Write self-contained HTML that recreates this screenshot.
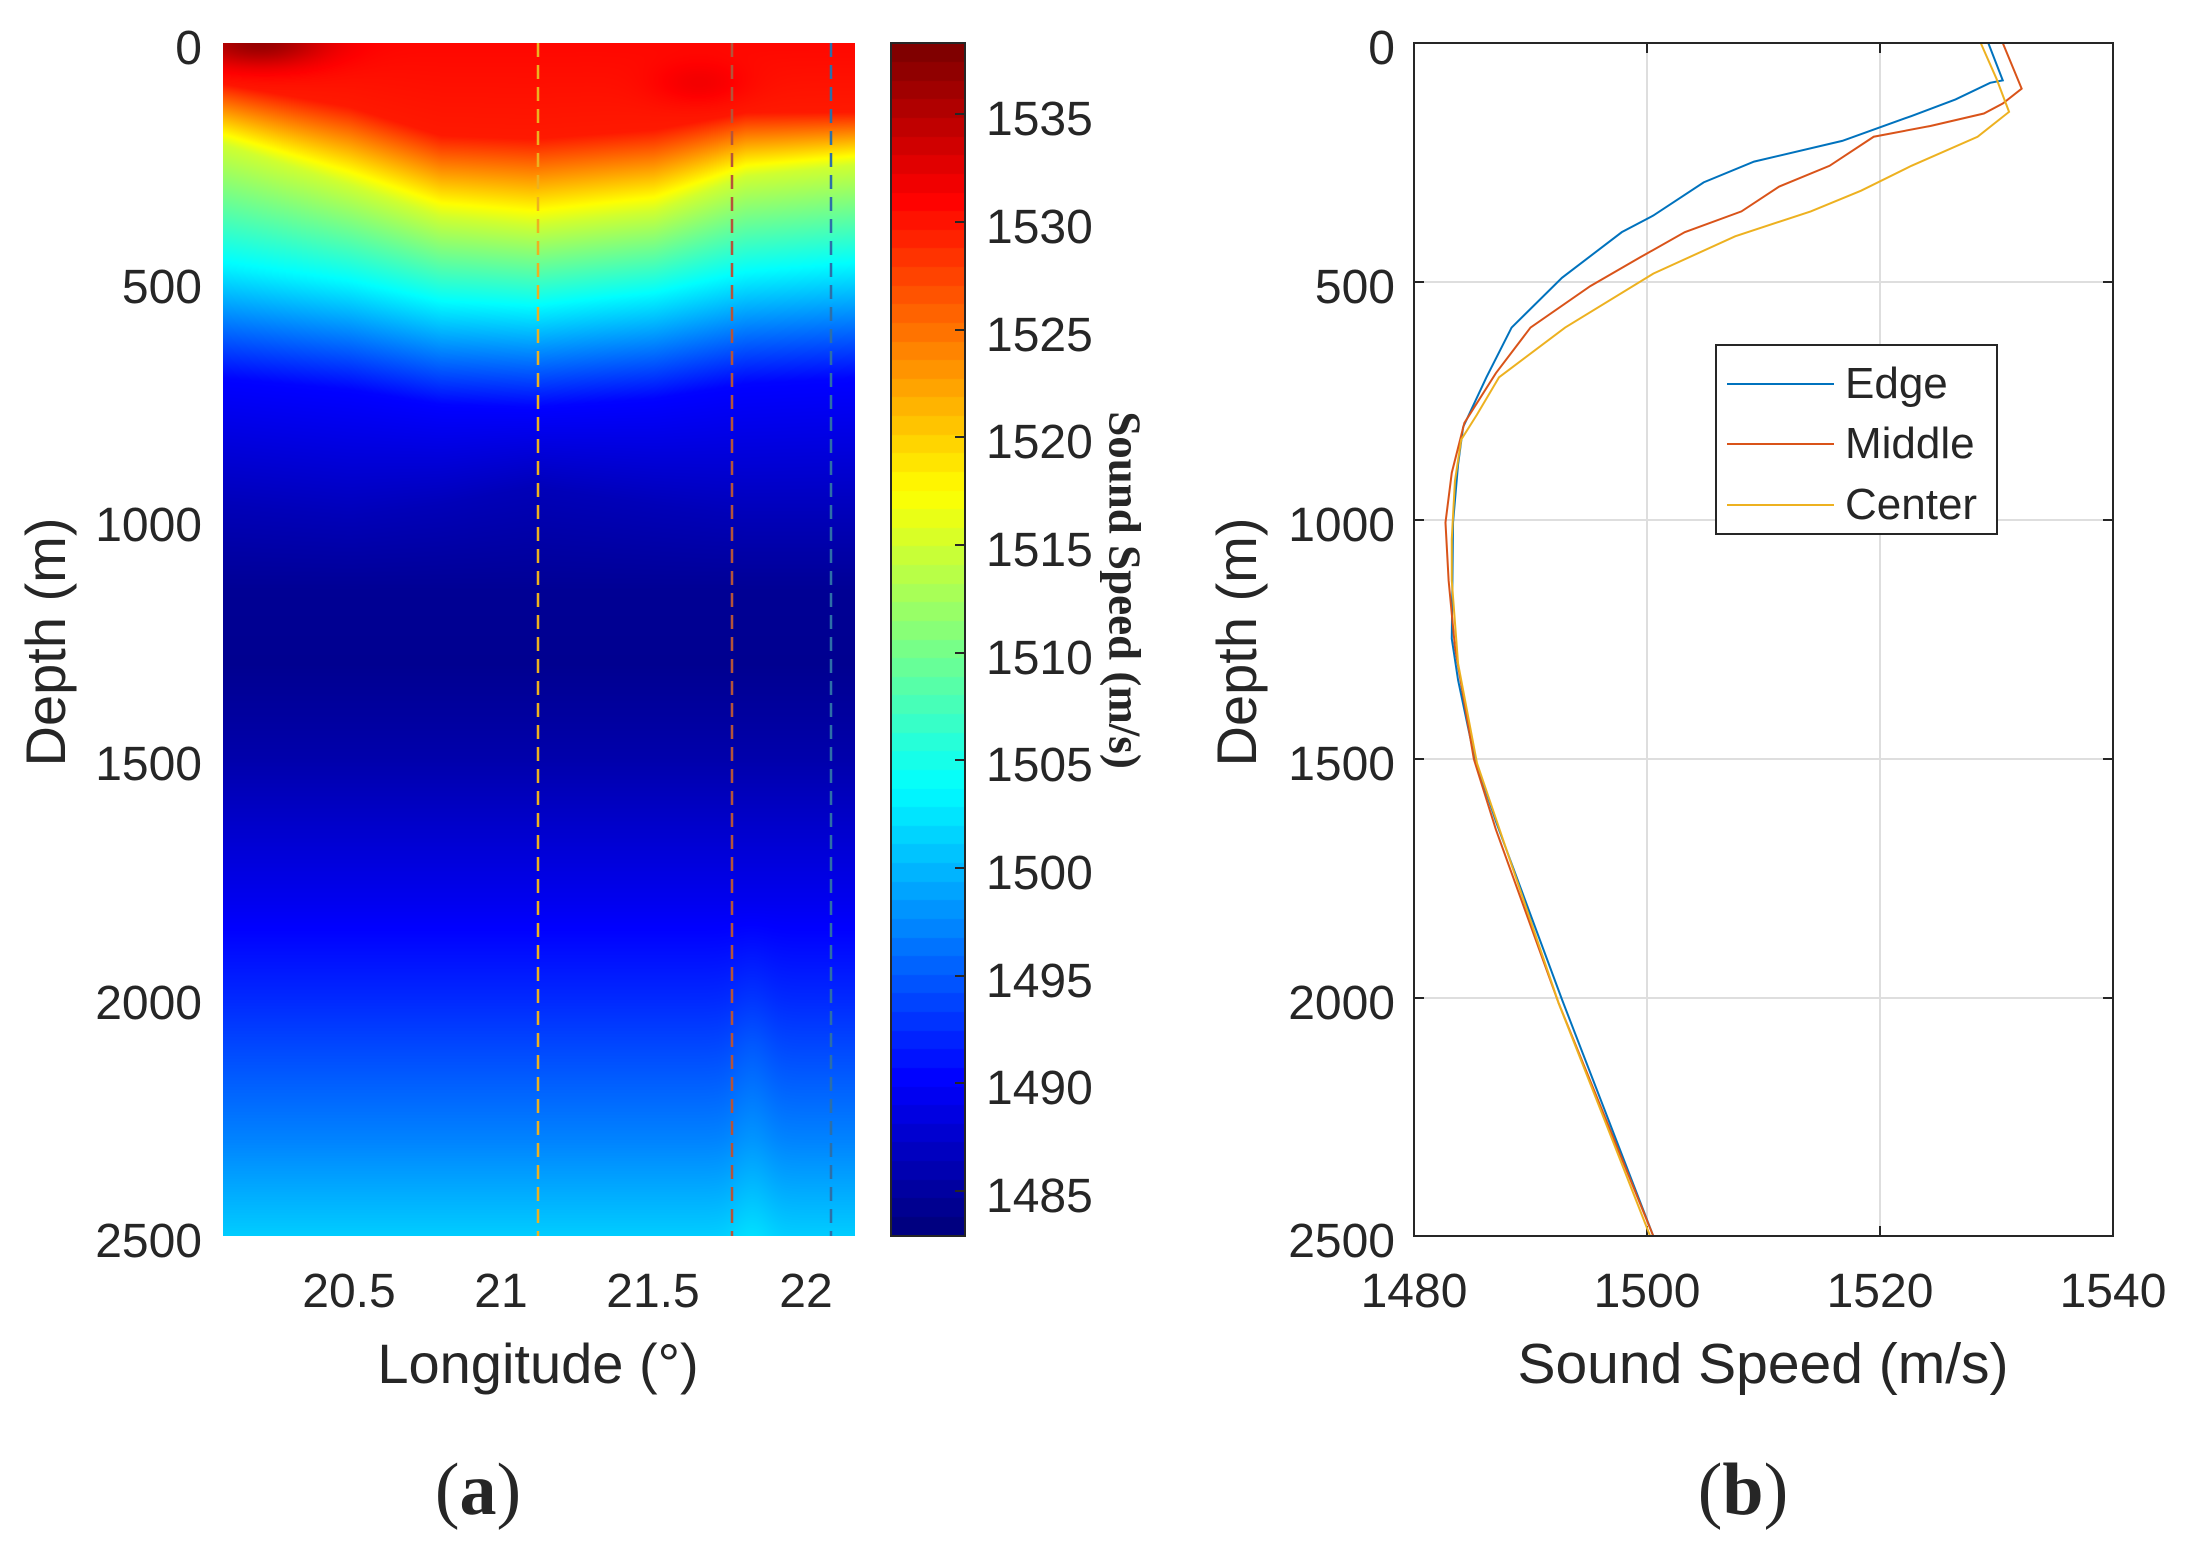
<!DOCTYPE html>
<html><head><meta charset="utf-8"><style>
html,body{margin:0;padding:0;background:#fff;}
body{width:2187px;height:1551px;position:relative;overflow:hidden;font-family:"Liberation Sans",sans-serif;color:#262626;}
canvas{position:absolute;}
.t{position:absolute;font-size:48px;line-height:1;white-space:nowrap;}
</style></head><body>
<canvas id="hm" width="632" height="1193" style="left:223px;top:43px;"></canvas>
<canvas id="cb" width="74" height="1193" style="left:891px;top:43px;"></canvas>
<svg width="2187" height="1551" style="position:absolute;left:0;top:0" xmlns="http://www.w3.org/2000/svg">
 <line x1="538" y1="43" x2="538" y2="1236" stroke="#EDB120" stroke-width="2.5" stroke-dasharray="14,8"/>
 <line x1="732" y1="43" x2="732" y2="1236" stroke="#B5543A" stroke-width="2.5" stroke-dasharray="14,8"/>
 <line x1="831" y1="43" x2="831" y2="1236" stroke="#2D6FA8" stroke-width="2.5" stroke-dasharray="14,8"/>
 <rect x="891" y="43" width="74" height="1193" fill="none" stroke="#262626" stroke-width="2"/>
 <g stroke="#262626" stroke-width="2">
  <line x1="955" y1="114" x2="965" y2="114"/><line x1="955" y1="222" x2="965" y2="222"/>
  <line x1="955" y1="330" x2="965" y2="330"/><line x1="955" y1="437" x2="965" y2="437"/>
  <line x1="955" y1="545" x2="965" y2="545"/><line x1="955" y1="653" x2="965" y2="653"/>
  <line x1="955" y1="760" x2="965" y2="760"/><line x1="955" y1="868" x2="965" y2="868"/>
  <line x1="955" y1="976" x2="965" y2="976"/><line x1="955" y1="1083" x2="965" y2="1083"/>
  <line x1="955" y1="1191" x2="965" y2="1191"/>
 </g>
 <g stroke="#dedede" stroke-width="2">
  <line x1="1647" y1="43" x2="1647" y2="1236"/><line x1="1880" y1="43" x2="1880" y2="1236"/>
  <line x1="1414" y1="282" x2="2113" y2="282"/><line x1="1414" y1="520" x2="2113" y2="520"/>
  <line x1="1414" y1="759" x2="2113" y2="759"/><line x1="1414" y1="998" x2="2113" y2="998"/>
 </g>
 <g stroke="#262626" stroke-width="2">
  <line x1="1647" y1="1236" x2="1647" y2="1226"/><line x1="1880" y1="1236" x2="1880" y2="1226"/>
  <line x1="1647" y1="43" x2="1647" y2="53"/><line x1="1880" y1="43" x2="1880" y2="53"/>
  <line x1="1414" y1="282" x2="1424" y2="282"/><line x1="1414" y1="520" x2="1424" y2="520"/>
  <line x1="1414" y1="759" x2="1424" y2="759"/><line x1="1414" y1="998" x2="1424" y2="998"/>
  <line x1="2113" y1="282" x2="2103" y2="282"/><line x1="2113" y1="520" x2="2103" y2="520"/>
  <line x1="2113" y1="759" x2="2103" y2="759"/><line x1="2113" y1="998" x2="2103" y2="998"/>
 </g>
 <g transform="translate(1199.9,-0.14) scale(0.6297,0.8296)" fill="none" stroke-width="2">
  <polyline vector-effect="non-scaling-stroke" stroke="#0072BD" points="1252,52 1275,97 1255,100 1200,120 1130,140 1020,170 880,195 800,220 720,260 670,280 575,335 495,395 455,455 418,515 410,560 402,630 400,770 410,820 435,910 470,990 575,1205 720,1490"/>
  <polyline vector-effect="non-scaling-stroke" stroke="#D95319" points="1275,52 1305,107 1275,125 1245,137 1160,152 1070,165 1000,200 920,225 860,255 770,280 700,310 620,345 525,395 470,450 420,510 400,570 390,630 395,700 405,780 435,915 470,1000 570,1210 720,1490"/>
  <polyline vector-effect="non-scaling-stroke" stroke="#EDB120" points="1240,52 1265,95 1285,135 1235,165 1130,200 1050,230 970,255 850,285 720,330 580,395 475,455 440,500 415,530 405,580 400,650 400,700 410,800 440,920 570,1210 715,1490"/>
 </g>
 <rect x="1414" y="43" width="699" height="1193" fill="none" stroke="#262626" stroke-width="2"/>
 <rect x="1716" y="345" width="281" height="189" fill="#fff" stroke="#262626" stroke-width="2"/>
 <line x1="1727" y1="384" x2="1834" y2="384" stroke="#0072BD" stroke-width="2"/>
 <line x1="1727" y1="444" x2="1834" y2="444" stroke="#D95319" stroke-width="2"/>
 <line x1="1727" y1="505" x2="1834" y2="505" stroke="#EDB120" stroke-width="2"/>
</svg>
<div class="t" style="left:1845px;top:362px;font-size:44px">Edge</div>
<div class="t" style="left:1845px;top:422px;font-size:44px">Middle</div>
<div class="t" style="left:1845px;top:483px;font-size:44px">Center</div>

<div class="t" style="right:1985px;top:25px">0</div>
<div class="t" style="right:1985px;top:264px">500</div>
<div class="t" style="right:1985px;top:502px">1000</div>
<div class="t" style="right:1985px;top:741px">1500</div>
<div class="t" style="right:1985px;top:980px">2000</div>
<div class="t" style="right:1985px;top:1218px">2500</div>
<div class="t" style="left:349px;top:1268px;transform:translateX(-50%)">20.5</div>
<div class="t" style="left:501px;top:1268px;transform:translateX(-50%)">21</div>
<div class="t" style="left:653px;top:1268px;transform:translateX(-50%)">21.5</div>
<div class="t" style="left:806px;top:1268px;transform:translateX(-50%)">22</div>
<div class="t" style="left:538px;top:1336px;transform:translateX(-50%);font-size:56px">Longitude (°)</div>
<div class="t" style="left:46px;top:642px;transform:translate(-50%,-50%) rotate(-90deg);font-size:56px">Depth (m)</div>
<div class="t" style="left:986px;top:96px">1535</div>
<div class="t" style="left:986px;top:204px">1530</div>
<div class="t" style="left:986px;top:312px">1525</div>
<div class="t" style="left:986px;top:419px">1520</div>
<div class="t" style="left:986px;top:527px">1515</div>
<div class="t" style="left:986px;top:635px">1510</div>
<div class="t" style="left:986px;top:742px">1505</div>
<div class="t" style="left:986px;top:850px">1500</div>
<div class="t" style="left:986px;top:958px">1495</div>
<div class="t" style="left:986px;top:1065px">1490</div>
<div class="t" style="left:986px;top:1173px">1485</div>
<div class="t" style="left:1124px;top:590px;transform:translate(-50%,-50%) rotate(90deg);font-family:'Liberation Serif',serif;font-weight:bold;font-size:45px">Sound Speed (m/s)</div>
<div class="t" style="right:792px;top:25px">0</div>
<div class="t" style="right:792px;top:264px">500</div>
<div class="t" style="right:792px;top:502px">1000</div>
<div class="t" style="right:792px;top:741px">1500</div>
<div class="t" style="right:792px;top:980px">2000</div>
<div class="t" style="right:792px;top:1218px">2500</div>
<div class="t" style="left:1414px;top:1268px;transform:translateX(-50%)">1480</div>
<div class="t" style="left:1647px;top:1268px;transform:translateX(-50%)">1500</div>
<div class="t" style="left:1880px;top:1268px;transform:translateX(-50%)">1520</div>
<div class="t" style="left:2113px;top:1268px;transform:translateX(-50%)">1540</div>
<div class="t" style="left:1763px;top:1336px;transform:translateX(-50%);font-size:57px">Sound Speed (m/s)</div>
<div class="t" style="left:1237px;top:642px;transform:translate(-50%,-50%) rotate(-90deg);font-size:56px">Depth (m)</div>
<div class="t" style="left:478px;top:1490px;transform:translate(-50%,-50%);font-family:'Liberation Serif',serif;font-size:74px">(<b>a</b>)</div>
<div class="t" style="left:1743px;top:1490px;transform:translate(-50%,-50%);font-family:'Liberation Serif',serif;font-size:74px">(<b>b</b>)</div>

<script>
function jet(t){t=Math.max(0,Math.min(1,t));function c(v){return Math.round(255*Math.max(0,Math.min(1,v)));}
return [c(1.5-Math.abs(4*t-3)),c(1.5-Math.abs(4*t-2)),c(1.5-Math.abs(4*t-1))];}
var VMIN=1482.9,VMAX=1538.3;
function interp(pts,x){if(x<=pts[0][0])return pts[0][1];for(var i=1;i<pts.length;i++){if(x<=pts[i][0]){var a=pts[i-1],b=pts[i];return a[1]+(b[1]-a[1])*(x-a[0])/(b[0]-a[0]);}}return pts[pts.length-1][1];}
var L=[20.086,20.5,20.8,21.1,21.5,21.8,22.16];
var lev={1530:[85,133,193,200,181,145,144],1515:[212,296,363,381,351,278,254],1503:[471,508,550,559,532,490,471],1490:[701,725,756,762,744,713,701],1486:[967,990,967,930,967,990,990]};
function tab(a){return L.map(function(l,i){return [l,a[i]];});}
var T={};for(var k in lev)T[k]=tab(lev[k]);
var deep=[[1150,1484],[1300,1483.8],[1500,1485.3],[1800,1489],[2000,1492],[2300,1497],[2500,1501]];
var hm=document.getElementById('hm'),ctx=hm.getContext('2d'),W=632,H=1193,img=ctx.createImageData(W,H);
for(var x=0;x<W;x++){var lon=20.086+x*(2.074/W);
 var prof=[[0,1531],[interp(T[1530],lon),1530],[interp(T[1515],lon),1515],[interp(T[1503],lon),1503],[interp(T[1490],lon),1490],[interp(T[1486],lon),1486]].concat(deep);
 var bump=6*Math.exp(-Math.pow((lon-20.2)/0.22,2));
 var bump2=1.5*Math.exp(-Math.pow((lon-21.65)/0.15,2));
 var g3=Math.exp(-Math.pow((lon-21.82)/0.07,2));
 for(var y=0;y<H;y++){var d=y*2500/H;
  var v=interp(prof,d)+bump*Math.exp(-Math.pow(d/50,2))+bump2*Math.exp(-Math.pow((d-85)/45,2));
  if(d>1800)v+=1.0*g3*Math.min(1,(d-1800)/300);
  var c=jet((v-VMIN)/(VMAX-VMIN));var i=(y*W+x)*4;img.data[i]=c[0];img.data[i+1]=c[1];img.data[i+2]=c[2];img.data[i+3]=255;}}
ctx.putImageData(img,0,0);
var cb=document.getElementById('cb'),c2=cb.getContext('2d');
for(var y=0;y<1193;y++){var t=1-y/1192;var c=jet(Math.floor(t*64)/63);c2.fillStyle='rgb('+c[0]+','+c[1]+','+c[2]+')';c2.fillRect(0,y,74,1);}
</script>
</body></html>
